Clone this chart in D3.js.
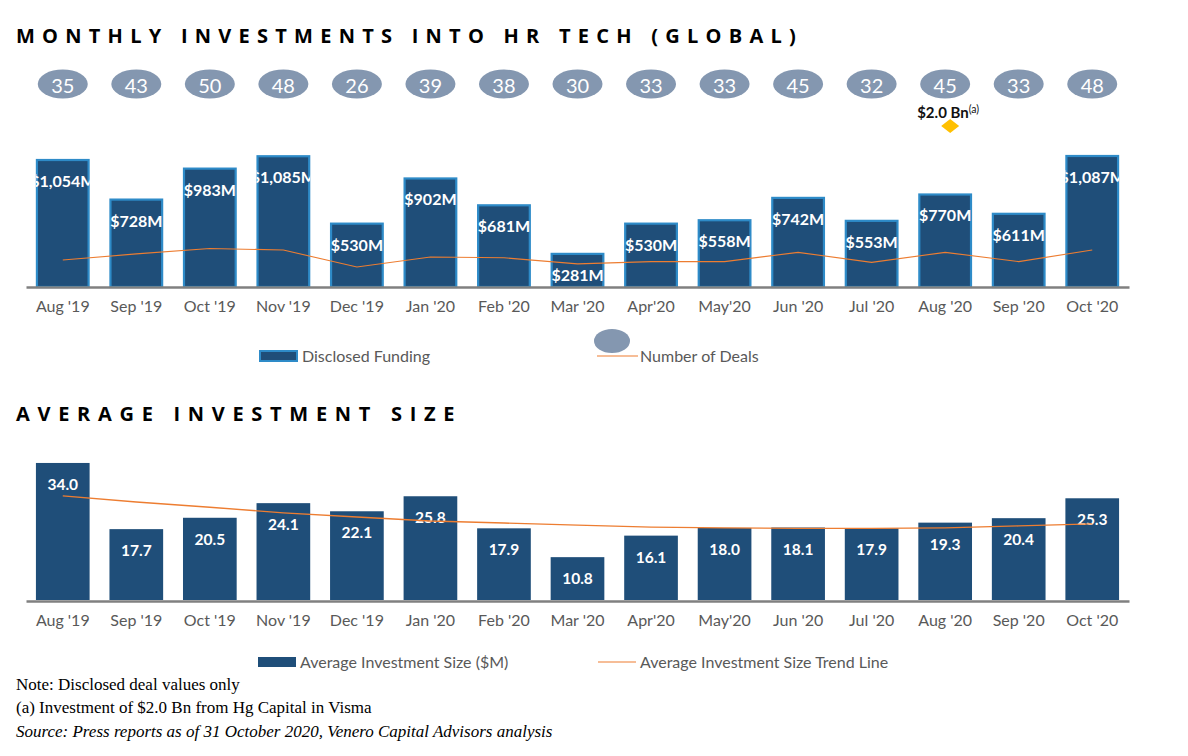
<!DOCTYPE html>
<html>
<head>
<meta charset="utf-8">
<script src="https://cdn.jsdelivr.net/npm/d3@7"></script>
<style>
  body { margin: 0; background: #fff; }
  svg { display: block; }
  .title { font-family: "Open Sans", sans-serif; font-weight: 700; font-size: 20px; fill: #000; }
  .tick text { font-family: Lato, "Open Sans", sans-serif; font-size: 16px; fill: #595959; }
  .lbl { font-family: Lato, "Open Sans", sans-serif; font-weight: 700; fill: #fff; }
  .legend { font-family: Lato, "Open Sans", sans-serif; font-size: 16px; fill: #595959; }
  .note { font-family: "Liberation Serif", serif; font-size: 17px; fill: #000; }
</style>
</head>
<body>
<div id="wrapper"></div>
<script>
// months on both charts
const months = ["Aug '19", "Sep '19", "Oct '19", "Nov '19", "Dec '19", "Jan '20", "Feb '20",
  "Mar '20", "Apr'20", "May'20", "Jun '20", "Jul '20", "Aug '20", "Sep '20", "Oct '20"]

// disclosed funding, $M
const funding = [1054, 728, 983, 1085, 530, 902, 681, 281, 530, 558, 742, 553, 770, 611, 1087]

// number of deals
const deals = [35, 43, 50, 48, 26, 39, 38, 30, 33, 33, 45, 32, 45, 33, 48]

// average investment size, $M
const avgSize = [34.0, 17.7, 20.5, 24.1, 22.1, 25.8, 17.9, 10.8, 16.1, 18.0, 18.1, 17.9, 19.3, 20.4, 25.3]

// trend line values
const avgTrend = [25.9, 24.4, 23.1, 21.7, 20.7, 19.7, 19.2, 18.7, 18.2, 18.0, 17.9, 17.9, 18.0, 18.5, 19.0]

function drawChart() {

  //1. dimensions
  const dimensions = { width: 1188, height: 756 }

  const wrapper = d3.select("#wrapper")
    .append("svg")
    .attr("width", dimensions.width)
    .attr("height", dimensions.height)

  const navy = "#1f4e79"
  const orange = "#ed7d31"

  //2. scales
  const xScale = d3.scaleBand()
    .domain(months)
    .range([26, 1129])
    .paddingInner(0.27)
    .paddingOuter(0.135)
  const xMid = d => xScale(d) + xScale.bandwidth() / 2

  const yTop = d3.scaleLinear().domain([0, 1100]).range([287, 287 - 1100 * 0.12144])
  const yDeals = d3.scaleLinear().domain([0, 100]).range([287, 210])
  const yBottom = d3.scaleLinear().domain([0, 35]).range([601, 601 - 35 * 4.06])

  //3. titles
  wrapper.append("text").attr("class", "title").attr("x", 16).attr("y", 43)
    .style("letter-spacing", "7.25px")
    .text("MONTHLY INVESTMENTS INTO HR TECH (GLOBAL)")
  wrapper.append("text").attr("class", "title").attr("x", 16).attr("y", 421)
    .style("letter-spacing", "7.7px")
    .text("AVERAGE INVESTMENT SIZE")

  //4. deal count bubbles
  const bubbles = wrapper.append("g")
  bubbles.selectAll("ellipse")
    .data(deals)
    .join("ellipse")
    .attr("cx", (d, i) => xMid(months[i]))
    .attr("cy", 84)
    .attr("rx", 25)
    .attr("ry", 14.5)
    .attr("fill", "#8497b0")
  bubbles.selectAll("text")
    .data(deals)
    .join("text")
    .attr("class", "lbl")
    .attr("x", (d, i) => xMid(months[i]))
    .attr("y", 93)
    .attr("text-anchor", "middle")
    .style("font-weight", 400)
    .style("font-size", "20px")
    .text(d => d)

  // $2.0 Bn note on Aug '20
  wrapper.append("text")
    .attr("x", xMid("Aug '20") + 3)
    .attr("y", 118)
    .attr("text-anchor", "middle")
    .style("font-family", "Lato, sans-serif")
    .style("font-size", "15px")
    .style("font-weight", 700)
    .attr("fill", "#111")
    .html('$2.0 Bn<tspan dy="-5" font-size="10.5" font-weight="400">(a)</tspan>')
  const dx = xMid("Aug '20") + 5
  wrapper.append("path")
    .attr("d", `M${dx},119 L${dx + 9},126 L${dx},133 L${dx - 9},126 Z`)
    .attr("fill", "#ffc000")

  //5. top bars
  const top = wrapper.append("g")
  const defs = wrapper.append("defs")
  defs.selectAll("clipPath")
    .data(funding)
    .join("clipPath")
    .attr("id", (d, i) => "clip" + i)
    .append("rect")
    .attr("x", (d, i) => xScale(months[i]))
    .attr("y", d => yTop(d) - 2)
    .attr("width", xScale.bandwidth())
    .attr("height", d => 287 - yTop(d) + 2)

  top.selectAll("rect")
    .data(funding)
    .join("rect")
    .attr("x", (d, i) => xScale(months[i]) + 1)
    .attr("y", d => yTop(d) + 1)
    .attr("width", xScale.bandwidth() - 2)
    .attr("height", d => 287 - yTop(d) - 1)
    .attr("fill", navy)
    .attr("stroke", "#2e8bc8")
    .attr("stroke-width", 2.2)

  top.selectAll("text")
    .data(funding)
    .join("text")
    .attr("class", "lbl")
    .attr("clip-path", (d, i) => `url(#clip${i})`)
    .attr("x", (d, i) => xMid(months[i]))
    .attr("y", d => yTop(d) + 28)
    .attr("text-anchor", "middle")
    .style("font-size", "16px")
    .text(d => "$" + d3.format(",")(d) + "M")

  const dealLine = d3.line()
    .x((d, i) => xMid(months[i]))
    .y(d => yDeals(d))
  wrapper.append("path")
    .attr("d", dealLine(deals))
    .attr("fill", "none")
    .attr("stroke", orange)
    .attr("stroke-width", 1.1)

  //6. axes
  const xAxisGenerator = d3.axisBottom(xScale).tickSize(0).tickPadding(14)
  const xAxisTop = wrapper.append("g")
    .attr("transform", "translate(0,287)")
    .call(xAxisGenerator)
  const xAxisBottom = wrapper.append("g")
    .attr("transform", "translate(0,601)")
    .call(xAxisGenerator)
  wrapper.selectAll(".domain")
    .attr("stroke", "#808080")
    .attr("stroke-width", 2.5)

  //7. bottom bars
  const bottom = wrapper.append("g")
  bottom.selectAll("rect")
    .data(avgSize)
    .join("rect")
    .attr("x", (d, i) => xScale(months[i]))
    .attr("y", d => yBottom(d))
    .attr("width", xScale.bandwidth())
    .attr("height", d => 601 - yBottom(d) - 1)
    .attr("fill", navy)

  const trendLine = d3.line()
    .x((d, i) => xMid(months[i]))
    .y(d => yBottom(d))
  wrapper.append("path")
    .attr("d", trendLine(avgTrend))
    .attr("fill", "none")
    .attr("stroke", orange)
    .attr("stroke-width", 1.4)

  bottom.selectAll("text")
    .data(avgSize)
    .join("text")
    .attr("class", "lbl")
    .attr("x", (d, i) => xMid(months[i]))
    .attr("y", d => yBottom(d) + 27)
    .attr("text-anchor", "middle")
    .style("font-size", "15.5px")
    .text(d => d.toFixed(1))

  //8. legends
  wrapper.append("rect").attr("x", 260).attr("y", 351).attr("width", 37).attr("height", 10)
    .attr("fill", navy).attr("stroke", "#2e8bc8").attr("stroke-width", 2)
  wrapper.append("text").attr("class", "legend").attr("x", 302).attr("y", 362).text("Disclosed Funding")
  wrapper.append("ellipse").attr("cx", 612).attr("cy", 341).attr("rx", 18).attr("ry", 12).attr("fill", "#8497b0")
  wrapper.append("line").attr("x1", 597).attr("x2", 638).attr("y1", 356).attr("y2", 356)
    .attr("stroke", orange).attr("stroke-width", 1.1)
  wrapper.append("text").attr("class", "legend").attr("x", 640).attr("y", 362).text("Number of Deals")

  wrapper.append("rect").attr("x", 258).attr("y", 657).attr("width", 38).attr("height", 10).attr("fill", navy)
  wrapper.append("text").attr("class", "legend").attr("x", 300).attr("y", 668).text("Average Investment Size ($M)")
  wrapper.append("line").attr("x1", 598).attr("x2", 636).attr("y1", 662).attr("y2", 662)
    .attr("stroke", orange).attr("stroke-width", 1.1)
  wrapper.append("text").attr("class", "legend").attr("x", 640).attr("y", 668).text("Average Investment Size Trend Line")

  //9. notes
  wrapper.append("text").attr("class", "note").attr("x", 16).attr("y", 690).text("Note: Disclosed deal values only")
  wrapper.append("text").attr("class", "note").attr("x", 16).attr("y", 713).text("(a) Investment of $2.0 Bn from Hg Capital in Visma")
  wrapper.append("text").attr("class", "note").attr("x", 16).attr("y", 737).style("font-style", "italic")
    .text("Source: Press reports as of 31 October 2020, Venero Capital Advisors analysis")
}
drawChart()
</script>
</body>
</html>
